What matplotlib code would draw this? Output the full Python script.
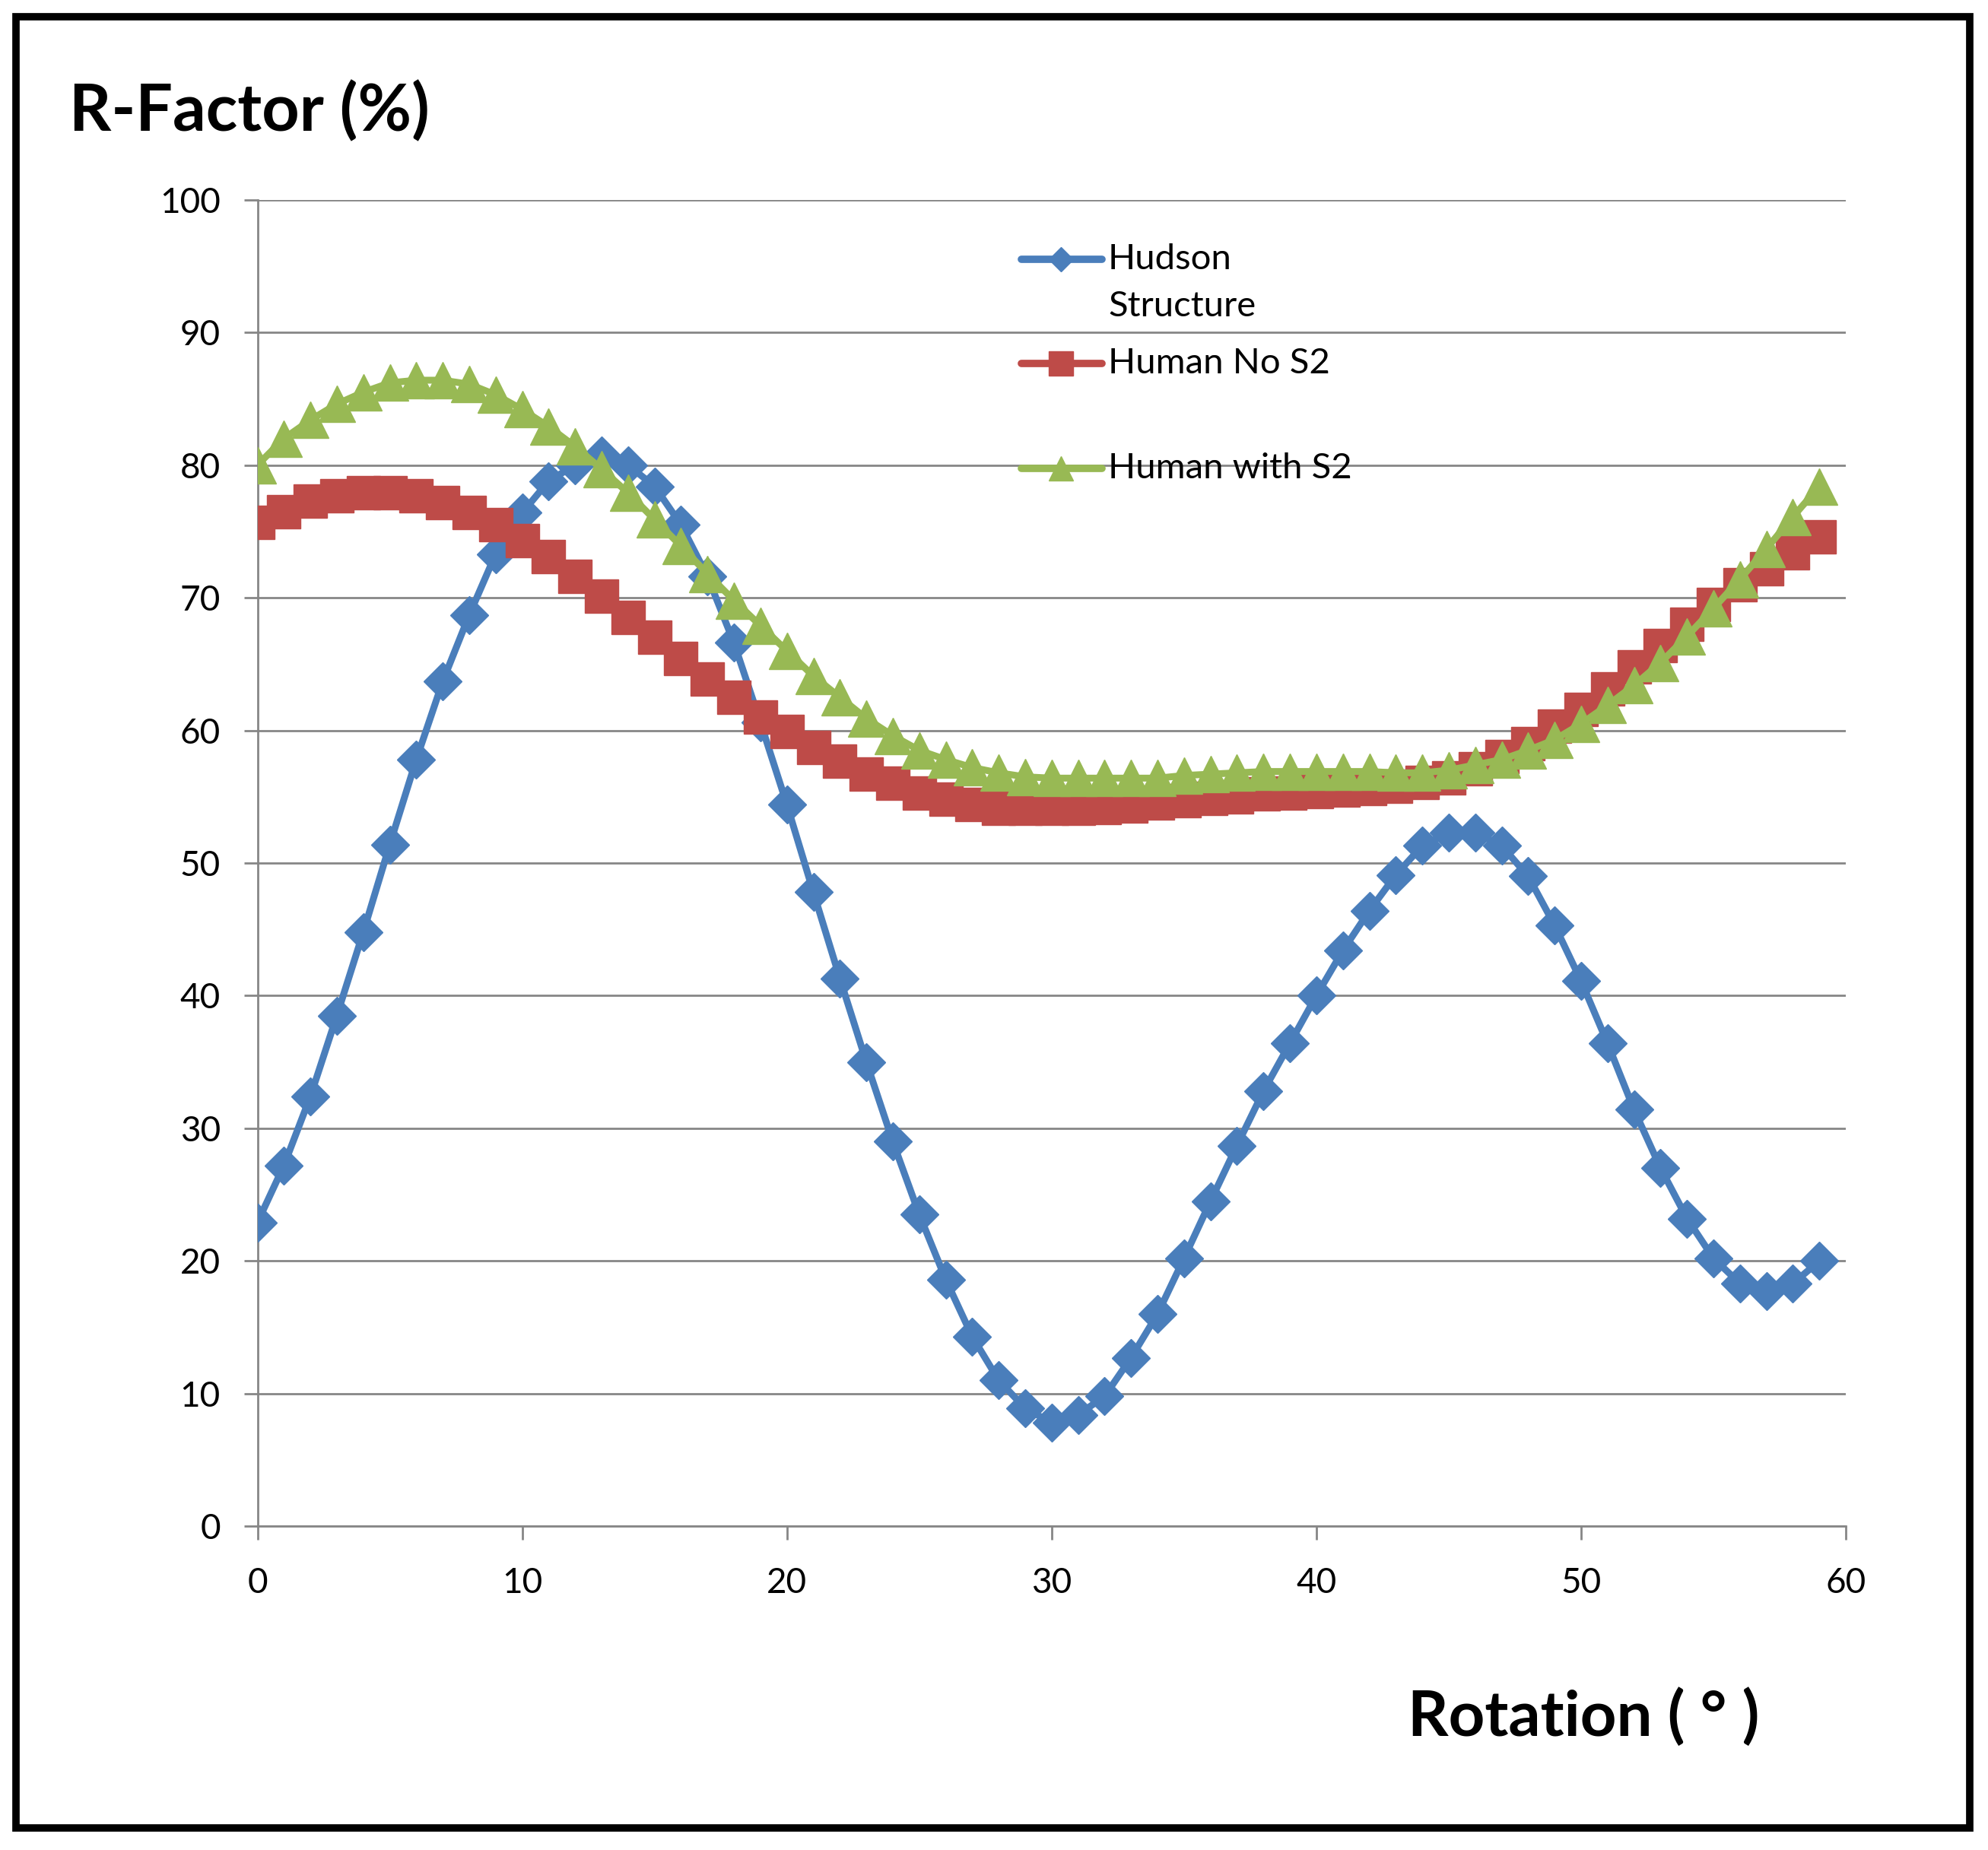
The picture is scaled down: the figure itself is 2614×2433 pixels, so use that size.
import matplotlib.pyplot as plt
import matplotlib.patches as patches

# Winkel (Grad) und R-Faktoren der drei Strukturen
rotation = list(range(60))

hudson = [22.9, 27.2, 32.4, 38.5, 44.8, 51.4, 57.8, 63.7, 68.7, 73.3,
          76.4, 78.8, 80.0, 80.7, 80.0, 78.4, 75.5, 71.6, 66.6, 60.6,
          54.4, 47.8, 41.3, 35.0, 29.0, 23.5, 18.6, 14.3, 11.0, 8.9,
          7.8, 8.4, 9.8, 12.7, 16.0, 20.2, 24.5, 28.7, 32.8, 36.4,
          40.0, 43.4, 46.4, 49.1, 51.3, 52.3, 52.3, 51.3, 49.0, 45.3,
          41.1, 36.4, 31.4, 27.0, 23.2, 20.2, 18.3, 17.7, 18.3, 20.0]

human_no_s2 = [75.7, 76.5, 77.3, 77.7, 77.9, 77.9, 77.7, 77.2, 76.4, 75.5,
               74.3, 73.1, 71.6, 70.1, 68.5, 67.0, 65.4, 63.9, 62.5, 61.0,
               59.9, 58.7, 57.7, 56.7, 56.0, 55.3, 54.8, 54.4, 54.1, 54.1,
               54.1, 54.1, 54.2, 54.3, 54.5, 54.7, 54.9, 55.0, 55.2, 55.3,
               55.4, 55.5, 55.6, 55.8, 56.1, 56.4, 57.1, 58.0, 59.0, 60.3,
               61.6, 63.1, 64.8, 66.4, 68.0, 69.5, 71.0, 72.2, 73.4, 74.6]

human_with_s2 = [80.0, 82.0, 83.4, 84.6, 85.5, 86.2, 86.4, 86.4, 86.1, 85.3,
                 84.2, 82.9, 81.4, 79.7, 77.9, 75.9, 73.9, 71.8, 69.8, 67.9,
                 66.0, 64.1, 62.5, 60.9, 59.6, 58.5, 57.8, 57.2, 56.8, 56.5,
                 56.4, 56.4, 56.4, 56.4, 56.4, 56.6, 56.7, 56.8, 56.9, 56.9,
                 56.9, 56.9, 56.9, 56.8, 56.8, 57.0, 57.4, 57.8, 58.5, 59.3,
                 60.5, 61.9, 63.4, 65.1, 67.1, 69.2, 71.4, 73.7, 76.1, 78.4]

labels = ['Hudson\nStructure', 'Human No S2', 'Human with S2']
colors = ['#4A7EBB', '#BE4B48', '#98B954']
markers = ['D', 's', '^']
msizes = [25, 32, 34]

plt.rcParams['font.family'] = ['Lato', 'DejaVu Sans']

fig = plt.figure(figsize=(26.14, 24.33), dpi=100)
ax = fig.add_axes([0.1295, 0.175, 0.799, 0.717])

for ys, c, m, s in zip([hudson, human_no_s2, human_with_s2], colors, markers, msizes):
    ax.plot(rotation, ys, color=c, lw=6.5, marker=m, ms=s, zorder=3)

ax.set_xlim(0, 60)
ax.set_ylim(0, 100)
ax.set_xticks(range(0, 61, 10))
ax.set_yticks(range(0, 101, 10))
ax.tick_params(labelsize=33, length=13, width=2, color='#868686')
ax.tick_params(axis='y', pad=22)
ax.tick_params(axis='x', pad=26)
ax.grid(axis='y', color='#868686', lw=2)
ax.set_axisbelow(True)
for s in ['top', 'right']:
    ax.spines[s].set_visible(False)
for s in ['left', 'bottom']:
    ax.spines[s].set_color('#868686')
    ax.spines[s].set_linewidth(2)

# Legende wie in Excel: Marker auf Hoehe der ersten Zeile
rows = [0.9551, 0.8768, 0.7975]
for lab, c, m, y in zip(labels, colors, markers, rows):
    ax.plot([0.481, 0.5315], [y, y], transform=ax.transAxes, color=c, lw=7,
            solid_capstyle='round', clip_on=False, zorder=4)
    ax.plot([0.506], [y], transform=ax.transAxes, color=c, marker=m,
            ms=16 if m == 'D' else 23, clip_on=False, zorder=4)
    for i, part in enumerate(lab.split('\n')):
        ax.text(0.5355, y - i * 0.0355, part, transform=ax.transAxes,
                fontsize=34, va='center', ha='left')

fig.text(0.035, 0.9397, 'R-Factor (%)', fontsize=62, fontweight='bold', va='center')
fig.text(0.708, 0.0719, 'Rotation ( ° )', fontsize=60, fontweight='bold', va='center')

# schwarzer Rahmen um das ganze Bild
fig.patches.append(patches.Rectangle((0.008, 0.012), 0.983, 0.979, transform=fig.transFigure,
                                     fill=False, edgecolor='black', lw=7))

fig.savefig('out.png', dpi=100)
